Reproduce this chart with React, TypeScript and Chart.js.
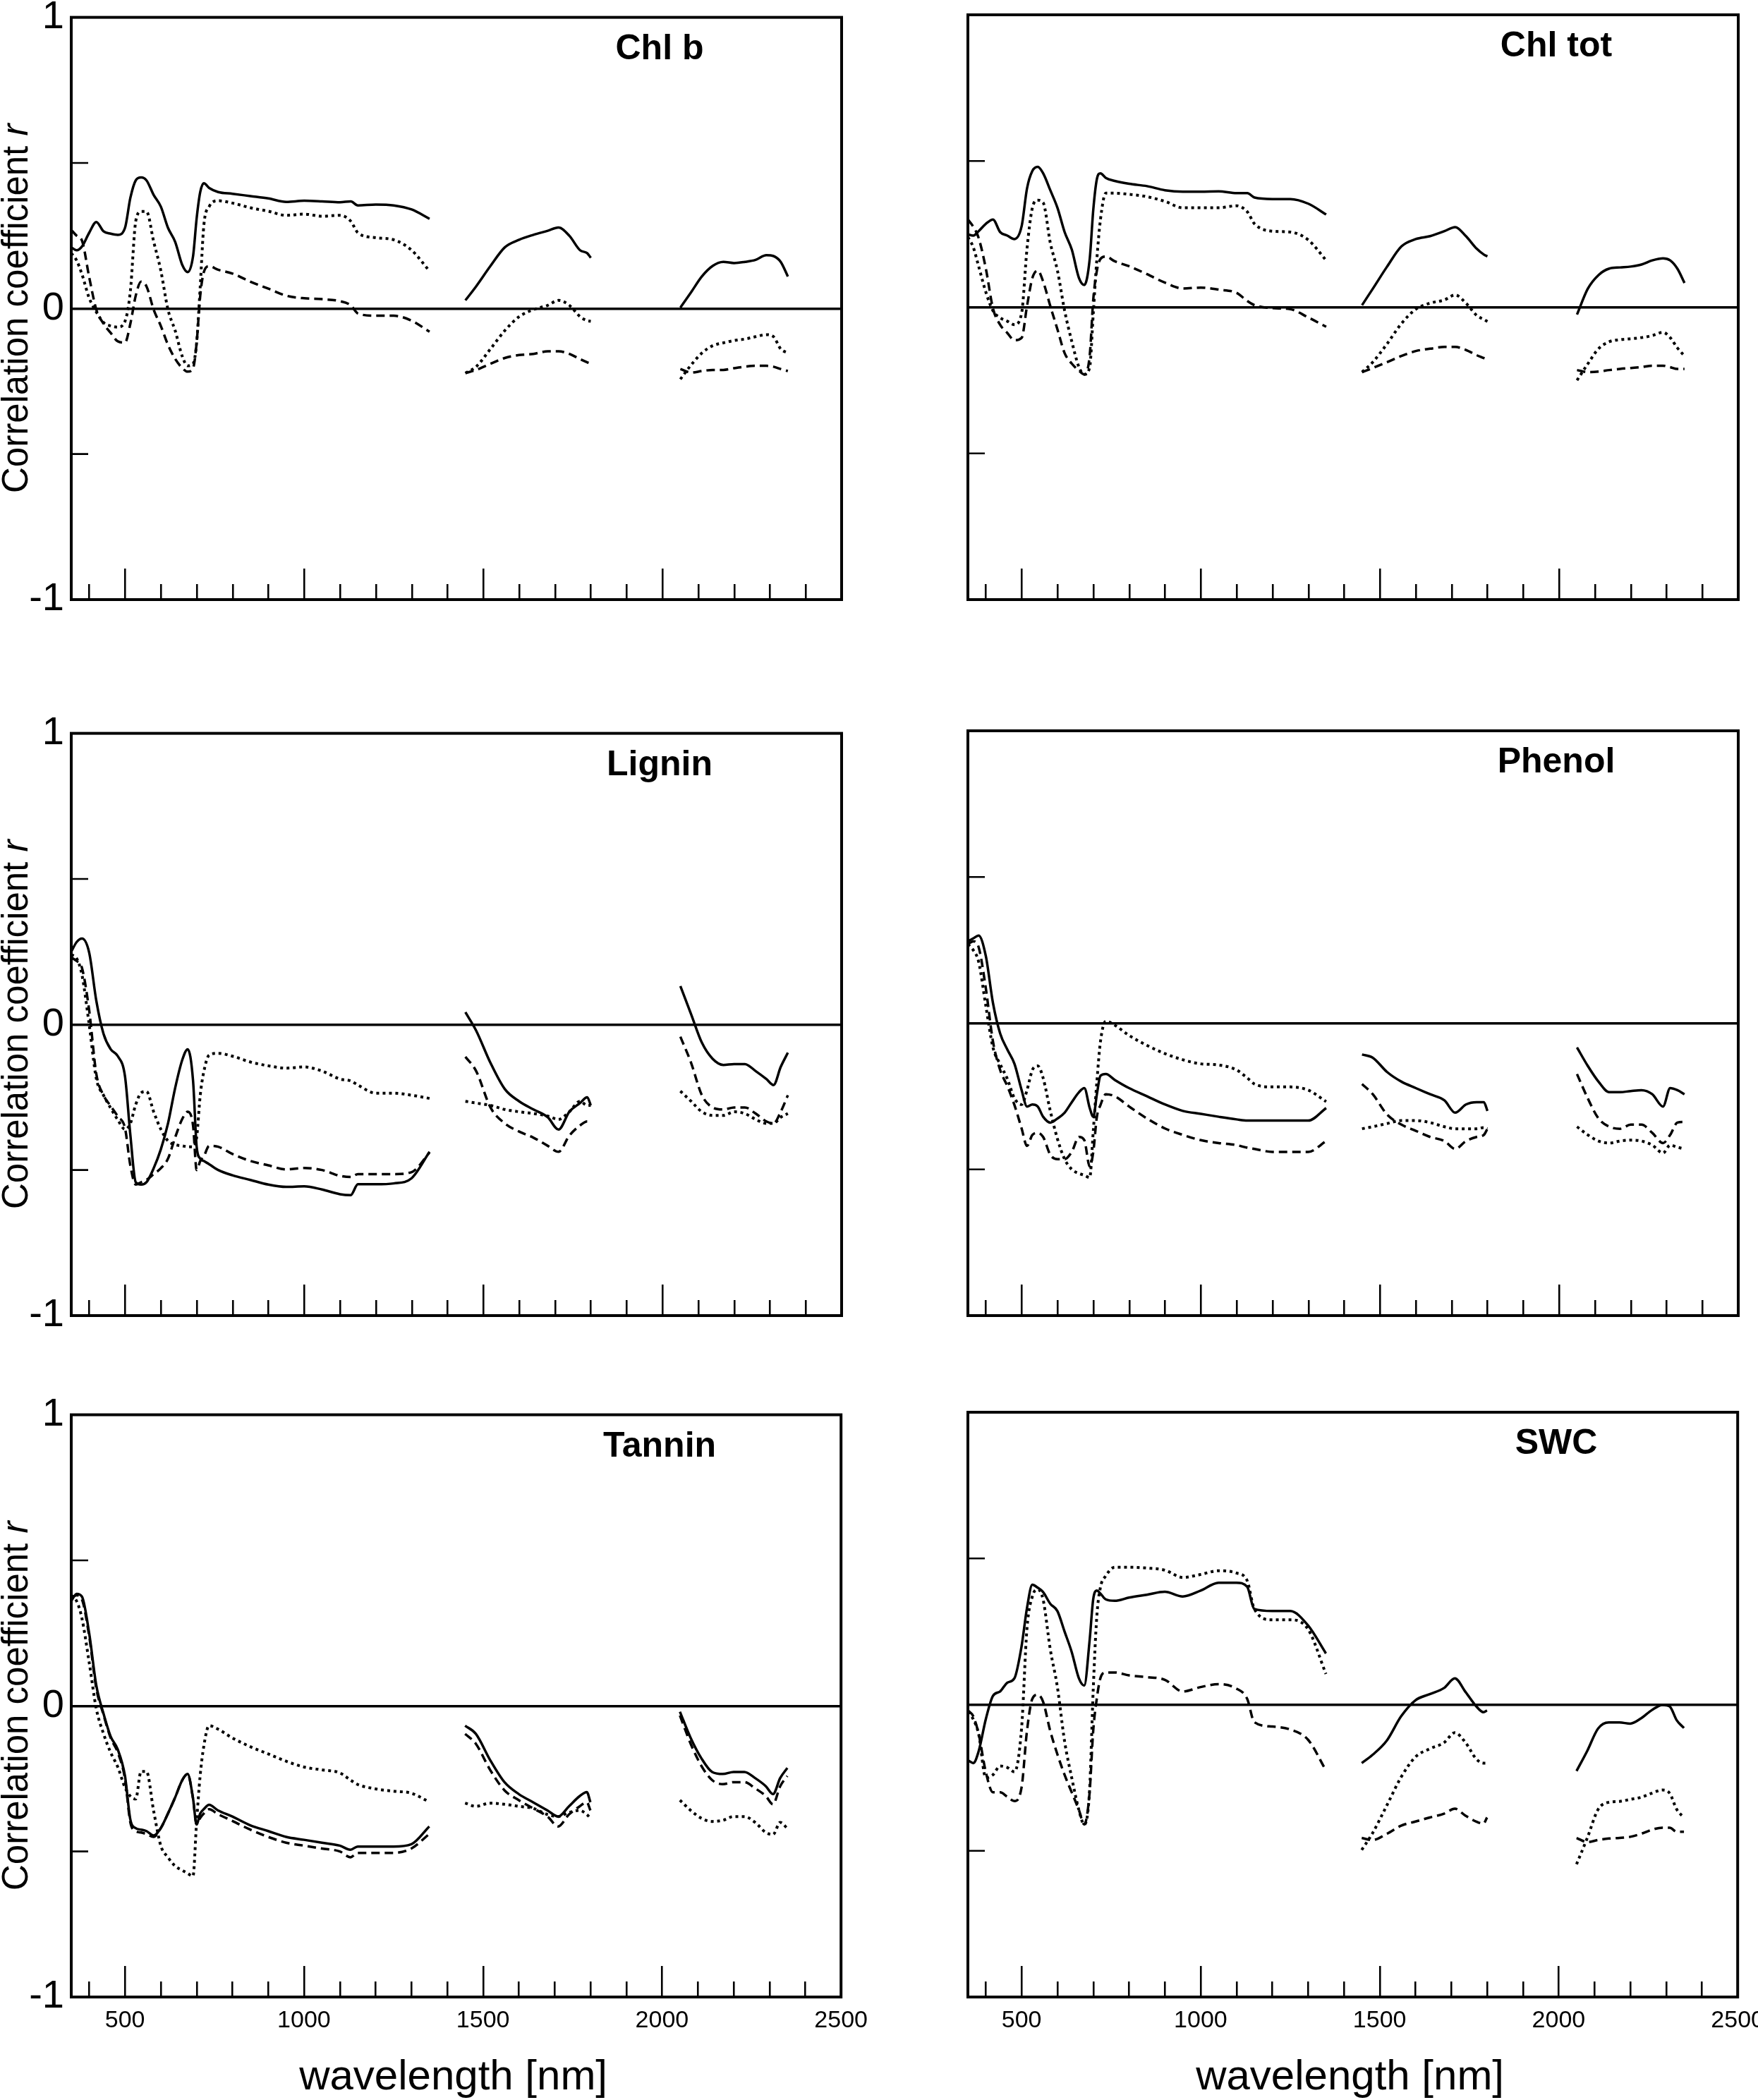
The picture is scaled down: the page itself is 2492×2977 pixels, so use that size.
import React, { useEffect, useRef } from 'react';
import { Chart, registerables } from 'chart.js';

Chart.register(...registerables);

// ---------- wavelength grids (nm) for the three spectral segments ----------
const WL_VIS = [350, 365, 380, 400, 420, 440, 460, 480, 500, 515, 530, 545, 560, 580, 600, 620, 640, 660, 675, 690, 700, 710, 720, 735, 760, 800, 850, 900, 950, 1000, 1050, 1100, 1130, 1150, 1200, 1250, 1300, 1350];
const WL_SWIR1 = [1450, 1480, 1520, 1560, 1600, 1640, 1680, 1710, 1740, 1770, 1790, 1800];
const WL_SWIR2 = [2050, 2080, 2110, 2140, 2170, 2200, 2230, 2260, 2290, 2310, 2330, 2350];

// ---------- axes ----------
const X_MIN = 350;
const X_MAX = 2500;
const X_LABEL_TICKS = [500, 1000, 1500, 2000, 2500];
const X_MARKS = [400, 500, 600, 700, 800, 900, 1000, 1100, 1200, 1300, 1400, 1500, 1600, 1700, 1800, 1900, 2000, 2100, 2200, 2300, 2400];
const X_MAJOR = [500, 1000, 1500, 2000];
const Y_TICKS = [-1, -0.5, 0, 0.5, 1];
const Y_LABELED = [-1, 0, 1];
const Y_INNER_MARKS = [-0.5, 0.5];

const X_TITLE = 'wavelength [nm]';
const Y_TITLE = 'Correlation coefficient ';
const Y_TITLE_ITALIC = 'r';

// ---------- series: VIS (38) + SWIR1 (12) + SWIR2 (12) ----------
const chlbSolid = [
  0.21, 0.20, 0.213, 0.26, 0.297, 0.265, 0.257, 0.253, 0.277, 0.38,
  0.44, 0.45, 0.44, 0.39, 0.35, 0.277, 0.229, 0.149, 0.125, 0.18,
  0.31, 0.40, 0.43, 0.414, 0.40, 0.394, 0.386, 0.378, 0.366, 0.37,
  0.368, 0.365, 0.368, 0.354, 0.357, 0.354, 0.34, 0.308,
  0.028, 0.076, 0.146, 0.21, 0.236, 0.253, 0.267, 0.278, 0.25, 0.20, 0.19, 0.174,
  0.003, 0.056, 0.11, 0.146, 0.16, 0.156, 0.16, 0.167, 0.183, 0.18, 0.16, 0.11,
];
const chlbDotted = [
  0.19, 0.165, 0.117, 0.036, -0.012, -0.048, -0.06, -0.064, -0.044, 0.06,
  0.30, 0.333, 0.333, 0.23, 0.13, -0.004, -0.076, -0.165, -0.197, -0.19,
  -0.117, 0.076, 0.285, 0.35, 0.37, 0.362, 0.346, 0.334, 0.32, 0.324,
  0.317, 0.32, 0.30, 0.26, 0.243, 0.236, 0.20, 0.128,
  -0.222, -0.2, -0.139, -0.076, -0.028, -0.004, 0.011, 0.028, 0.011, -0.028, -0.042, -0.044,
  -0.243, -0.194, -0.153, -0.128, -0.118, -0.11, -0.105, -0.097, -0.09, -0.097, -0.139, -0.153,
];
const chlbDashed = [
  0.27, 0.25, 0.233, 0.108, -0.004, -0.052, -0.084, -0.113, -0.117, -0.052,
  0.044, 0.092, 0.076, -0.004, -0.06, -0.125, -0.173, -0.205, -0.217, -0.205,
  -0.117, 0.044, 0.125, 0.145, 0.133, 0.12, 0.092, 0.068, 0.044, 0.035,
  0.032, 0.025, 0.011, -0.017, -0.025, -0.025, -0.042, -0.08,
  -0.222, -0.211, -0.19, -0.17, -0.16, -0.156, -0.147, -0.147, -0.156, -0.174, -0.185, -0.19,
  -0.208, -0.22, -0.215, -0.211, -0.211, -0.205, -0.2, -0.197, -0.197, -0.2, -0.208, -0.215,
];

const chltotSolid = [
  0.249, 0.245, 0.26, 0.285, 0.30, 0.257, 0.245, 0.233, 0.277, 0.406,
  0.466, 0.48, 0.458, 0.40, 0.34, 0.257, 0.197, 0.10, 0.076, 0.165,
  0.334, 0.438, 0.458, 0.442, 0.432, 0.422, 0.414, 0.40, 0.395, 0.395,
  0.396, 0.39, 0.39, 0.375, 0.37, 0.37, 0.354, 0.317,
  0.007, 0.063, 0.139, 0.208, 0.233, 0.243, 0.26, 0.274, 0.243, 0.20, 0.18, 0.174,
  -0.025, 0.063, 0.11, 0.132, 0.136, 0.139, 0.146, 0.16, 0.167, 0.16, 0.132, 0.083,
];
const chltotDotted = [
  0.24, 0.205, 0.14, 0.052, -0.012, -0.036, -0.048, -0.06, -0.02, 0.20,
  0.34, 0.366, 0.358, 0.22, 0.125, -0.012, -0.117, -0.205, -0.23, -0.205,
  -0.02, 0.165, 0.30, 0.39, 0.39, 0.386, 0.378, 0.362, 0.34, 0.34,
  0.34, 0.347, 0.326, 0.285, 0.26, 0.257, 0.23, 0.16,
  -0.222, -0.188, -0.125, -0.056, -0.007, 0.014, 0.025, 0.042, 0.014, -0.028, -0.042, -0.049,
  -0.25, -0.194, -0.142, -0.118, -0.111, -0.108, -0.104, -0.097, -0.086, -0.104, -0.139, -0.167,
];
const chltotDashed = [
  0.30, 0.275, 0.237, 0.133, -0.004, -0.06, -0.088, -0.113, -0.105, 0.004,
  0.10, 0.125, 0.088, 0.004, -0.076, -0.157, -0.193, -0.217, -0.23, -0.165,
  0.028, 0.125, 0.165, 0.173, 0.157, 0.14, 0.113, 0.084, 0.064, 0.067,
  0.06, 0.049, 0.021, 0.007, -0.003, -0.007, -0.035, -0.067,
  -0.222, -0.208, -0.188, -0.167, -0.15, -0.142, -0.136, -0.136, -0.146, -0.164, -0.174, -0.18,
  -0.215, -0.222, -0.22, -0.215, -0.211, -0.208, -0.205, -0.2, -0.2, -0.205, -0.211, -0.211,
];

const ligninSolid = [
  0.25, 0.283, 0.295, 0.247, 0.081, -0.032, -0.085, -0.109, -0.178, -0.38,
  -0.542, -0.55, -0.542, -0.494, -0.429, -0.34, -0.218, -0.121, -0.085, -0.194,
  -0.42, -0.461, -0.469, -0.48, -0.50, -0.518, -0.534, -0.55, -0.558, -0.556,
  -0.567, -0.583, -0.586, -0.549, -0.549, -0.546, -0.528, -0.4375,
  0.042, -0.021, -0.132, -0.222, -0.264, -0.292, -0.319, -0.361, -0.30, -0.27, -0.25, -0.278,
  0.132, 0.035, -0.0625, -0.118, -0.139, -0.136, -0.136, -0.16, -0.1875, -0.208, -0.146, -0.097,
];
const ligninDotted = [
  0.24, 0.227, 0.17, 0.0, -0.186, -0.243, -0.287, -0.328, -0.36, -0.34,
  -0.275, -0.235, -0.23, -0.30, -0.36, -0.40, -0.413, -0.417, -0.42, -0.42,
  -0.388, -0.243, -0.162, -0.105, -0.099, -0.109, -0.129, -0.142, -0.15, -0.146,
  -0.16, -0.1875, -0.194, -0.208, -0.236, -0.236, -0.243, -0.254,
  -0.264, -0.27, -0.278, -0.292, -0.30, -0.306, -0.315, -0.326, -0.30, -0.264, -0.278, -0.278,
  -0.229, -0.264, -0.30, -0.3125, -0.3125, -0.30, -0.306, -0.326, -0.34, -0.34, -0.319, -0.306,
];
const ligninDashed = [
  0.23, 0.218, 0.194, 0.049, -0.17, -0.243, -0.28, -0.316, -0.356, -0.485,
  -0.55, -0.542, -0.534, -0.514, -0.494, -0.461, -0.388, -0.324, -0.30, -0.348,
  -0.50, -0.469, -0.453, -0.417, -0.42, -0.445, -0.469, -0.484, -0.498, -0.493,
  -0.50, -0.52, -0.524, -0.514, -0.514, -0.514, -0.507, -0.44,
  -0.111, -0.16, -0.285, -0.34, -0.368, -0.389, -0.417, -0.4375, -0.382, -0.347, -0.333, -0.34,
  -0.042, -0.132, -0.243, -0.285, -0.292, -0.285, -0.285, -0.306, -0.333, -0.34, -0.30, -0.243,
];

const phenolSolid = [
  0.28, 0.29, 0.30, 0.23, 0.069, -0.035, -0.09, -0.139, -0.229, -0.285,
  -0.278, -0.285, -0.32, -0.34, -0.326, -0.306, -0.27, -0.236, -0.222, -0.29,
  -0.32, -0.243, -0.18, -0.174, -0.194, -0.222, -0.25, -0.278, -0.30, -0.31,
  -0.32, -0.329, -0.333, -0.333, -0.333, -0.333, -0.333, -0.29,
  -0.107, -0.118, -0.167, -0.20, -0.222, -0.243, -0.264, -0.306, -0.278, -0.27, -0.27, -0.30,
  -0.083, -0.146, -0.20, -0.236, -0.236, -0.232, -0.229, -0.243, -0.285, -0.222, -0.229, -0.243,
];
const phenolDotted = [
  0.27, 0.25, 0.21, 0.06, -0.083, -0.14, -0.19, -0.257, -0.278, -0.229,
  -0.16, -0.146, -0.1875, -0.30, -0.396, -0.465, -0.50, -0.514, -0.52, -0.528,
  -0.368, -0.20, -0.0625, 0.007, -0.007, -0.042, -0.076, -0.104, -0.125, -0.139,
  -0.143, -0.16, -0.1875, -0.208, -0.218, -0.218, -0.229, -0.268,
  -0.361, -0.354, -0.343, -0.333, -0.333, -0.34, -0.354, -0.361, -0.361, -0.361, -0.357, -0.361,
  -0.354, -0.382, -0.403, -0.41, -0.403, -0.40, -0.403, -0.417, -0.444, -0.417, -0.424, -0.43,
];
const phenolDashed = [
  0.27, 0.28, 0.26, 0.12, -0.0625, -0.16, -0.215, -0.28, -0.36, -0.42,
  -0.382, -0.375, -0.389, -0.45, -0.465, -0.465, -0.44, -0.389, -0.40, -0.49,
  -0.44, -0.32, -0.28, -0.243, -0.25, -0.285, -0.326, -0.36, -0.382, -0.40,
  -0.41, -0.417, -0.426, -0.43, -0.44, -0.44, -0.44, -0.403,
  -0.208, -0.243, -0.3125, -0.347, -0.368, -0.389, -0.403, -0.43, -0.403, -0.389, -0.382, -0.361,
  -0.174, -0.257, -0.326, -0.354, -0.361, -0.347, -0.347, -0.375, -0.41, -0.382, -0.34, -0.3375,
];

const tanninSolid = [
  0.36, 0.385, 0.375, 0.25, 0.07, -0.026, -0.105, -0.15, -0.24, -0.39,
  -0.42, -0.425, -0.43, -0.445, -0.42, -0.37, -0.315, -0.255, -0.234, -0.317,
  -0.407, -0.37, -0.355, -0.34, -0.359, -0.38, -0.41, -0.43, -0.45, -0.46,
  -0.47, -0.48, -0.494, -0.483, -0.483, -0.483, -0.475, -0.414,
  -0.068, -0.096, -0.186, -0.262, -0.303, -0.331, -0.359, -0.38, -0.345, -0.31, -0.296, -0.331,
  -0.02, -0.11, -0.18, -0.227, -0.234, -0.227, -0.227, -0.248, -0.276, -0.303, -0.248, -0.213,
];
const tanninDotted = [
  0.38, 0.36, 0.30, 0.15, -0.01, -0.095, -0.16, -0.21, -0.28, -0.31,
  -0.32, -0.225, -0.225, -0.36, -0.48, -0.52, -0.55, -0.565, -0.575, -0.585,
  -0.40, -0.24, -0.14, -0.068, -0.08, -0.11, -0.14, -0.165, -0.19, -0.21,
  -0.22, -0.23, -0.255, -0.27, -0.285, -0.293, -0.30, -0.33,
  -0.334, -0.345, -0.334, -0.338, -0.345, -0.352, -0.373, -0.38, -0.366, -0.359, -0.373, -0.386,
  -0.324, -0.359, -0.386, -0.397, -0.393, -0.38, -0.38, -0.40, -0.435, -0.442, -0.40, -0.421,
];
const tanninDashed = [
  0.37, 0.38, 0.365, 0.24, 0.06, -0.03, -0.11, -0.16, -0.25, -0.40,
  -0.43, -0.435, -0.44, -0.45, -0.42, -0.37, -0.315, -0.255, -0.234, -0.317,
  -0.407, -0.385, -0.37, -0.355, -0.372, -0.395, -0.425, -0.45, -0.47, -0.48,
  -0.49, -0.50, -0.52, -0.505, -0.505, -0.505, -0.49, -0.44,
  -0.096, -0.13, -0.22, -0.29, -0.324, -0.352, -0.38, -0.414, -0.373, -0.345, -0.331, -0.359,
  -0.033, -0.13, -0.206, -0.255, -0.269, -0.262, -0.262, -0.283, -0.31, -0.338, -0.276, -0.241,
];

const swcSolid = [
  -0.19, -0.20, -0.16, -0.05, 0.03, 0.045, 0.075, 0.09, 0.20, 0.33,
  0.41, 0.40, 0.385, 0.345, 0.32, 0.25, 0.18, 0.09, 0.065, 0.22,
  0.36, 0.39, 0.38, 0.36, 0.355, 0.366, 0.376, 0.386, 0.37, 0.39,
  0.417, 0.417, 0.403, 0.327, 0.32, 0.32, 0.271, 0.175,
  -0.20, -0.172, -0.123, -0.04, 0.015, 0.036, 0.057, 0.09, 0.043, -0.006, -0.026, -0.02,
  -0.227, -0.158, -0.082, -0.061, -0.061, -0.065, -0.047, -0.019, -0.001, -0.006, -0.054, -0.08,
];
const swcDotted = [
  -0.025, -0.05, -0.10, -0.25, -0.24, -0.21, -0.215, -0.23, -0.08, 0.26,
  0.37, 0.394, 0.36, 0.19, 0.06, -0.125, -0.25, -0.36, -0.41, -0.29,
  0.05, 0.30, 0.40, 0.44, 0.47, 0.47, 0.467, 0.46, 0.435, 0.445,
  0.458, 0.45, 0.424, 0.327, 0.29, 0.29, 0.258, 0.105,
  -0.497, -0.44, -0.345, -0.248, -0.179, -0.151, -0.13, -0.096, -0.13, -0.186, -0.2, -0.2,
  -0.546, -0.456, -0.359, -0.334, -0.331, -0.324, -0.317, -0.303, -0.292, -0.303, -0.359, -0.386,
];
const swcDashed = [
  -0.02, -0.04, -0.10, -0.23, -0.30, -0.30, -0.315, -0.33, -0.283, -0.09,
  0.02, 0.034, 0.01, -0.09, -0.17, -0.24, -0.30, -0.36, -0.41, -0.30,
  -0.09, 0.02, 0.09, 0.11, 0.11, 0.10, 0.094, 0.085, 0.045, 0.06,
  0.07, 0.055, 0.02, -0.06, -0.075, -0.085, -0.12, -0.225,
  -0.456, -0.463, -0.442, -0.414, -0.40, -0.386, -0.373, -0.356, -0.38, -0.40, -0.407, -0.386,
  -0.456, -0.47, -0.463, -0.458, -0.456, -0.452, -0.442, -0.428, -0.421, -0.421, -0.435, -0.435,
];

const PANEL_TITLES = ['Chl b', 'Chl tot', 'Lignin', 'Phenol', 'Tannin', 'SWC'];
const PANEL_SERIES = [
  [chlbSolid, chlbDotted, chlbDashed],
  [chltotSolid, chltotDotted, chltotDashed],
  [ligninSolid, ligninDotted, ligninDashed],
  [phenolSolid, phenolDotted, phenolDashed],
  [tanninSolid, tanninDotted, tanninDashed],
  [swcSolid, swcDotted, swcDashed],
];

// ---------- layout (page pixels) ----------
const COL_LEFT = [101, 1372];
const ROW_TOP = [21, 1036, 2002];
const AREA_W = 1092;
const AREA_H = 829;
const PAD_L = 101;
const PAD_T = 40;
const PAD_R = 50;
const PAD_B = [60, 60, 975 - 829];

const SANS = '"Liberation Sans", Arial, Helvetica, sans-serif';

const LINE_STYLES = [
  { borderDash: [] as number[], borderWidth: 3.5 },
  { borderDash: [4, 5], borderWidth: 4 },
  { borderDash: [12, 7], borderWidth: 3.5 },
];

function toPoints(vals: number[]) {
  const pts: { x: number; y: number | null }[] = [];
  const n1 = WL_VIS.length;
  const n2 = WL_SWIR1.length;
  WL_VIS.forEach((w, i) => pts.push({ x: w, y: vals[i] }));
  pts.push({ x: (WL_VIS[n1 - 1] + WL_SWIR1[0]) / 2, y: null });
  WL_SWIR1.forEach((w, i) => pts.push({ x: w, y: vals[n1 + i] }));
  pts.push({ x: (WL_SWIR1[n2 - 1] + WL_SWIR2[0]) / 2, y: null });
  WL_SWIR2.forEach((w, i) => pts.push({ x: w, y: vals[n1 + n2 + i] }));
  return pts;
}

function makeDecor(title: string, col: number, row: number) {
  return {
    id: 'panelDecor',
    afterDraw(chart: any) {
      const { ctx, chartArea: a, scales } = chart;
      const xs = scales.x;
      const ys = scales.y;
      ctx.save();
      ctx.strokeStyle = '#000';
      ctx.fillStyle = '#000';
      ctx.lineCap = 'butt';
      // inward tick marks
      ctx.lineWidth = 2.6;
      ctx.beginPath();
      for (const v of X_MARKS) {
        const px = Math.round(xs.getPixelForValue(v)) + 0.25;
        const len = X_MAJOR.includes(v) ? 44 : 22;
        ctx.moveTo(px, a.bottom);
        ctx.lineTo(px, a.bottom - len);
      }
      for (const v of Y_INNER_MARKS) {
        const py = ys.getPixelForValue(v);
        ctx.moveTo(a.left, py);
        ctx.lineTo(a.left + 24, py);
      }
      ctx.stroke();
      // frame
      ctx.lineWidth = 4;
      ctx.strokeRect(a.left, a.top, a.right - a.left, a.bottom - a.top);
      // panel title
      ctx.font = `bold 50px ${SANS}`;
      ctx.textAlign = 'center';
      ctx.textBaseline = 'alphabetic';
      ctx.fillText(title, a.left + 834, a.top + 59);
      // y title (left column)
      if (col === 0) {
        ctx.save();
        ctx.translate(a.left - 62, (a.top + a.bottom) / 2);
        ctx.rotate(-Math.PI / 2);
        ctx.font = `51px ${SANS}`;
        const w1 = ctx.measureText(Y_TITLE).width;
        ctx.font = `italic 51px ${SANS}`;
        const w2 = ctx.measureText(Y_TITLE_ITALIC).width;
        const start = -(w1 + w2) / 2;
        ctx.textAlign = 'left';
        ctx.font = `51px ${SANS}`;
        ctx.fillText(Y_TITLE, start, 0);
        ctx.font = `italic 51px ${SANS}`;
        ctx.fillText(Y_TITLE_ITALIC, start + w1, 0);
        ctx.restore();
      }
      // x title (bottom row)
      if (row === 2) {
        ctx.font = `60px ${SANS}`;
        ctx.textAlign = 'center';
        ctx.fillText(X_TITLE, (a.left + a.right) / 2 - 4, a.bottom + 131);
      }
      ctx.restore();
    },
  };
}

function Panel({ index }: { index: number }) {
  const ref = useRef<HTMLCanvasElement | null>(null);
  const col = index % 2;
  const row = Math.floor(index / 2);
  const padB = PAD_B[row];
  const width = PAD_L + AREA_W + PAD_R;
  const height = PAD_T + AREA_H + padB;
  const left = COL_LEFT[col] - PAD_L;
  const top = ROW_TOP[row] - PAD_T;

  useEffect(() => {
    if (!ref.current) return;
    const series = PANEL_SERIES[index];
    const chart = new Chart(ref.current, {
      type: 'line',
      data: {
        datasets: series.map((vals, k) => ({
          data: toPoints(vals),
          borderColor: '#000',
          backgroundColor: '#000',
          borderWidth: LINE_STYLES[k].borderWidth,
          borderDash: LINE_STYLES[k].borderDash,
          borderCapStyle: 'butt',
          borderJoinStyle: 'round',
          pointRadius: 0,
          pointHoverRadius: 0,
          fill: false,
          spanGaps: false,
          cubicInterpolationMode: 'monotone',
        })) as any,
      },
      options: {
        responsive: false,
        maintainAspectRatio: false,
        animation: false,
        devicePixelRatio: 1,
        events: [],
        layout: { padding: { left: 0, top: PAD_T, right: PAD_R, bottom: 0 } },
        plugins: {
          legend: { display: false },
          title: { display: false },
          tooltip: { enabled: false },
        },
        scales: {
          x: {
            type: 'linear',
            min: X_MIN,
            max: X_MAX,
            afterBuildTicks: (s: any) => {
              s.ticks = X_LABEL_TICKS.map((v) => ({ value: v }));
            },
            afterFit: (s: any) => {
              s.height = padB;
            },
            grid: { display: false, drawTicks: false },
            border: { display: false },
            ticks: {
              display: row === 2,
              autoSkip: false,
              maxRotation: 0,
              minRotation: 0,
              padding: 13,
              color: '#000',
              font: { family: SANS, size: 34 },
              callback: (v: any) => String(v),
            },
          },
          y: {
            type: 'linear',
            min: -1,
            max: 1,
            afterBuildTicks: (s: any) => {
              s.ticks = Y_TICKS.map((v) => ({ value: v }));
            },
            afterFit: (s: any) => {
              s.width = PAD_L;
            },
            grid: {
              display: true,
              drawTicks: false,
              drawOnChartArea: true,
              lineWidth: 3.5,
              color: (c: any) => (c.tick && c.tick.value === 0 ? '#000' : 'rgba(0,0,0,0)'),
            },
            border: { display: false },
            ticks: {
              display: col === 0,
              padding: 10,
              color: '#000',
              font: { family: SANS, size: 56 },
              callback: (v: any) => (Y_LABELED.includes(Number(v)) ? String(v) : ''),
            },
          },
        },
      },
      plugins: [makeDecor(PANEL_TITLES[index], col, row)],
    });
    return () => chart.destroy();
  }, [index]);

  return (
    <canvas
      ref={ref}
      width={width}
      height={height}
      style={{ position: 'absolute', left, top, width, height, display: 'block' }}
    />
  );
}

export default function App() {
  return (
    <div
      style={{
        position: 'absolute',
        left: 0,
        top: 0,
        width: 2492,
        height: 2977,
        overflow: 'hidden',
        background: '#fff',
      }}
    >
      {PANEL_TITLES.map((_, i) => (
        <Panel key={i} index={i} />
      ))}
    </div>
  );
}
